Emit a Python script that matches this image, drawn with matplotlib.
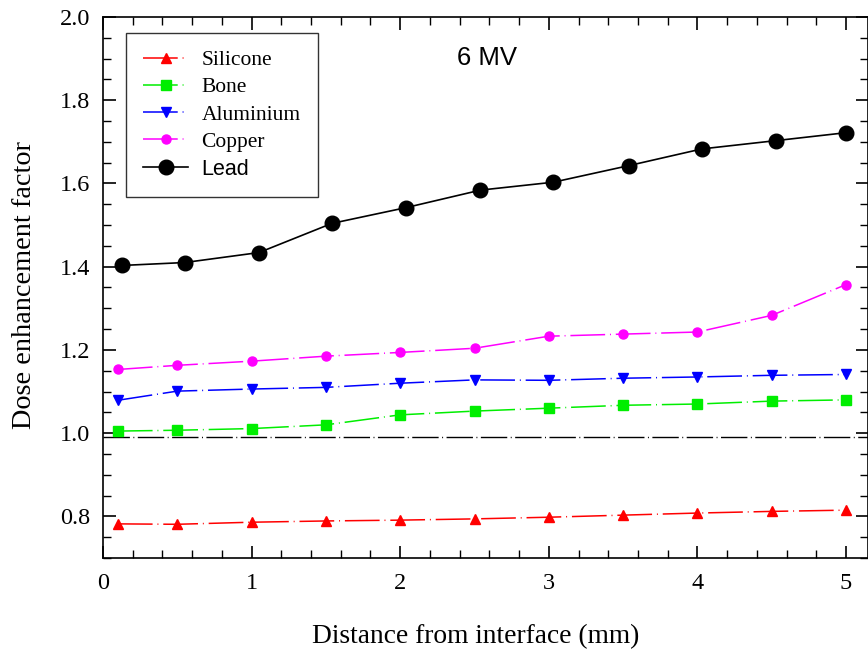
import matplotlib.pyplot as plt
from matplotlib.ticker import MultipleLocator

plt.rcParams['lines.scale_dashes'] = False
SERIF = ['Liberation Serif', 'DejaVu Serif']
SANS = ['Liberation Sans', 'DejaVu Sans']

# data
x_dist = [0.1, 0.5, 1.0, 1.5, 2.0, 2.5, 3.0, 3.5, 4.0, 4.5, 5.0]
x_lead = [0.13, 0.55, 1.05, 1.54, 2.04, 2.54, 3.03, 3.54, 4.03, 4.53, 5.0]

silicone = [0.782, 0.781, 0.786, 0.789, 0.791, 0.794, 0.798, 0.803, 0.808, 0.812, 0.815]
bone = [1.005, 1.007, 1.011, 1.020, 1.044, 1.053, 1.060, 1.067, 1.070, 1.077, 1.080]
aluminium = [1.079, 1.101, 1.106, 1.110, 1.120, 1.128, 1.127, 1.132, 1.135, 1.139, 1.141]
copper = [1.153, 1.163, 1.173, 1.185, 1.194, 1.204, 1.233, 1.238, 1.243, 1.283, 1.357]
lead = [1.403, 1.410, 1.434, 1.504, 1.542, 1.584, 1.603, 1.643, 1.683, 1.703, 1.722]

reference_level = 0.99

fig = plt.figure(figsize=(8.68, 6.54), dpi=100)
ax = fig.add_axes([103 / 868, 96 / 654, 765 / 868, 541 / 654])

dash_dot = [25, 3.5, 0.7, 3.5]

ax.plot([0, 5.2], [reference_level, reference_level], color='black', lw=1.0,
        dashes=[19, 2.5, 0.7, 2.5])

ax.plot(x_dist, silicone, color='#ff0000', lw=1.1, dashes=dash_dot,
        marker='^', ms=7, label='Silicone')
ax.plot(x_dist, bone, color='#00ee00', lw=1.1, dashes=dash_dot,
        marker='s', ms=7, label='Bone')
ax.plot(x_dist, aluminium, color='#0000ff', lw=1.1, dashes=dash_dot,
        marker='v', ms=7, label='Aluminium')
ax.plot(x_dist, copper, color='#ff00ff', lw=1.1, dashes=dash_dot,
        marker='o', ms=6.5, label='Copper')
ax.plot(x_lead, lead, color='black', lw=1.2, marker='o', ms=10.5, label='Lead')

ax.set_xlim(0, 765 / 148.6)
ax.set_ylim(0.7, 2.0)
ax.xaxis.set_major_locator(MultipleLocator(1))
ax.xaxis.set_minor_locator(MultipleLocator(0.2))
ax.yaxis.set_minor_locator(MultipleLocator(0.05))
ax.set_yticks([0.8, 1.0, 1.2, 1.4, 1.6, 1.8, 2.0])
ax.set_yticklabels(['0.8', '1.0', '1.2', '1.4', '1.6', '1.8', '2.0'])

ax.tick_params(which='both', direction='in', top=True, right=True)
ax.tick_params(which='major', length=9, width=1.2)
ax.tick_params(which='minor', length=6, width=1.0)
ax.tick_params(axis='x', which='major', pad=11)
ax.tick_params(axis='y', which='major', pad=9)
for lab in ax.get_xticklabels() + ax.get_yticklabels():
    lab.set_family(SERIF)
    lab.set_fontsize(17.5)
for sp in ax.spines.values():
    sp.set_linewidth(1.2)

ax.set_xlabel('Distance from interface (mm)', family=SERIF, fontsize=19.8)
ax.xaxis.set_label_coords((476 - 103) / 765, -66 / 541)
ax.set_ylabel('Dose enhancement factor', family=SERIF, fontsize=20.3)
ax.yaxis.set_label_coords(-66 / 765, 0.5 + (541 / 2 - (285 - 17)) / 541)

ax.text(0.502, 0.924, '6 MV', transform=ax.transAxes, family=SANS, fontsize=18.5,
        ha='center', va='center')

leg = ax.legend(loc='upper left', bbox_to_anchor=(23 / 765, 1 - 16 / 541),
                handlelength=2.1, handletextpad=0.6, labelspacing=0.33,
                borderpad=0.8, borderaxespad=0, fancybox=False, frameon=True,
                prop={'family': SERIF, 'size': 15.5})
leg.get_frame().set_edgecolor('black')
leg.get_frame().set_linewidth(1.0)
leg.get_texts()[-1].set_family(SANS)

fig.savefig('out.png', dpi=100)
